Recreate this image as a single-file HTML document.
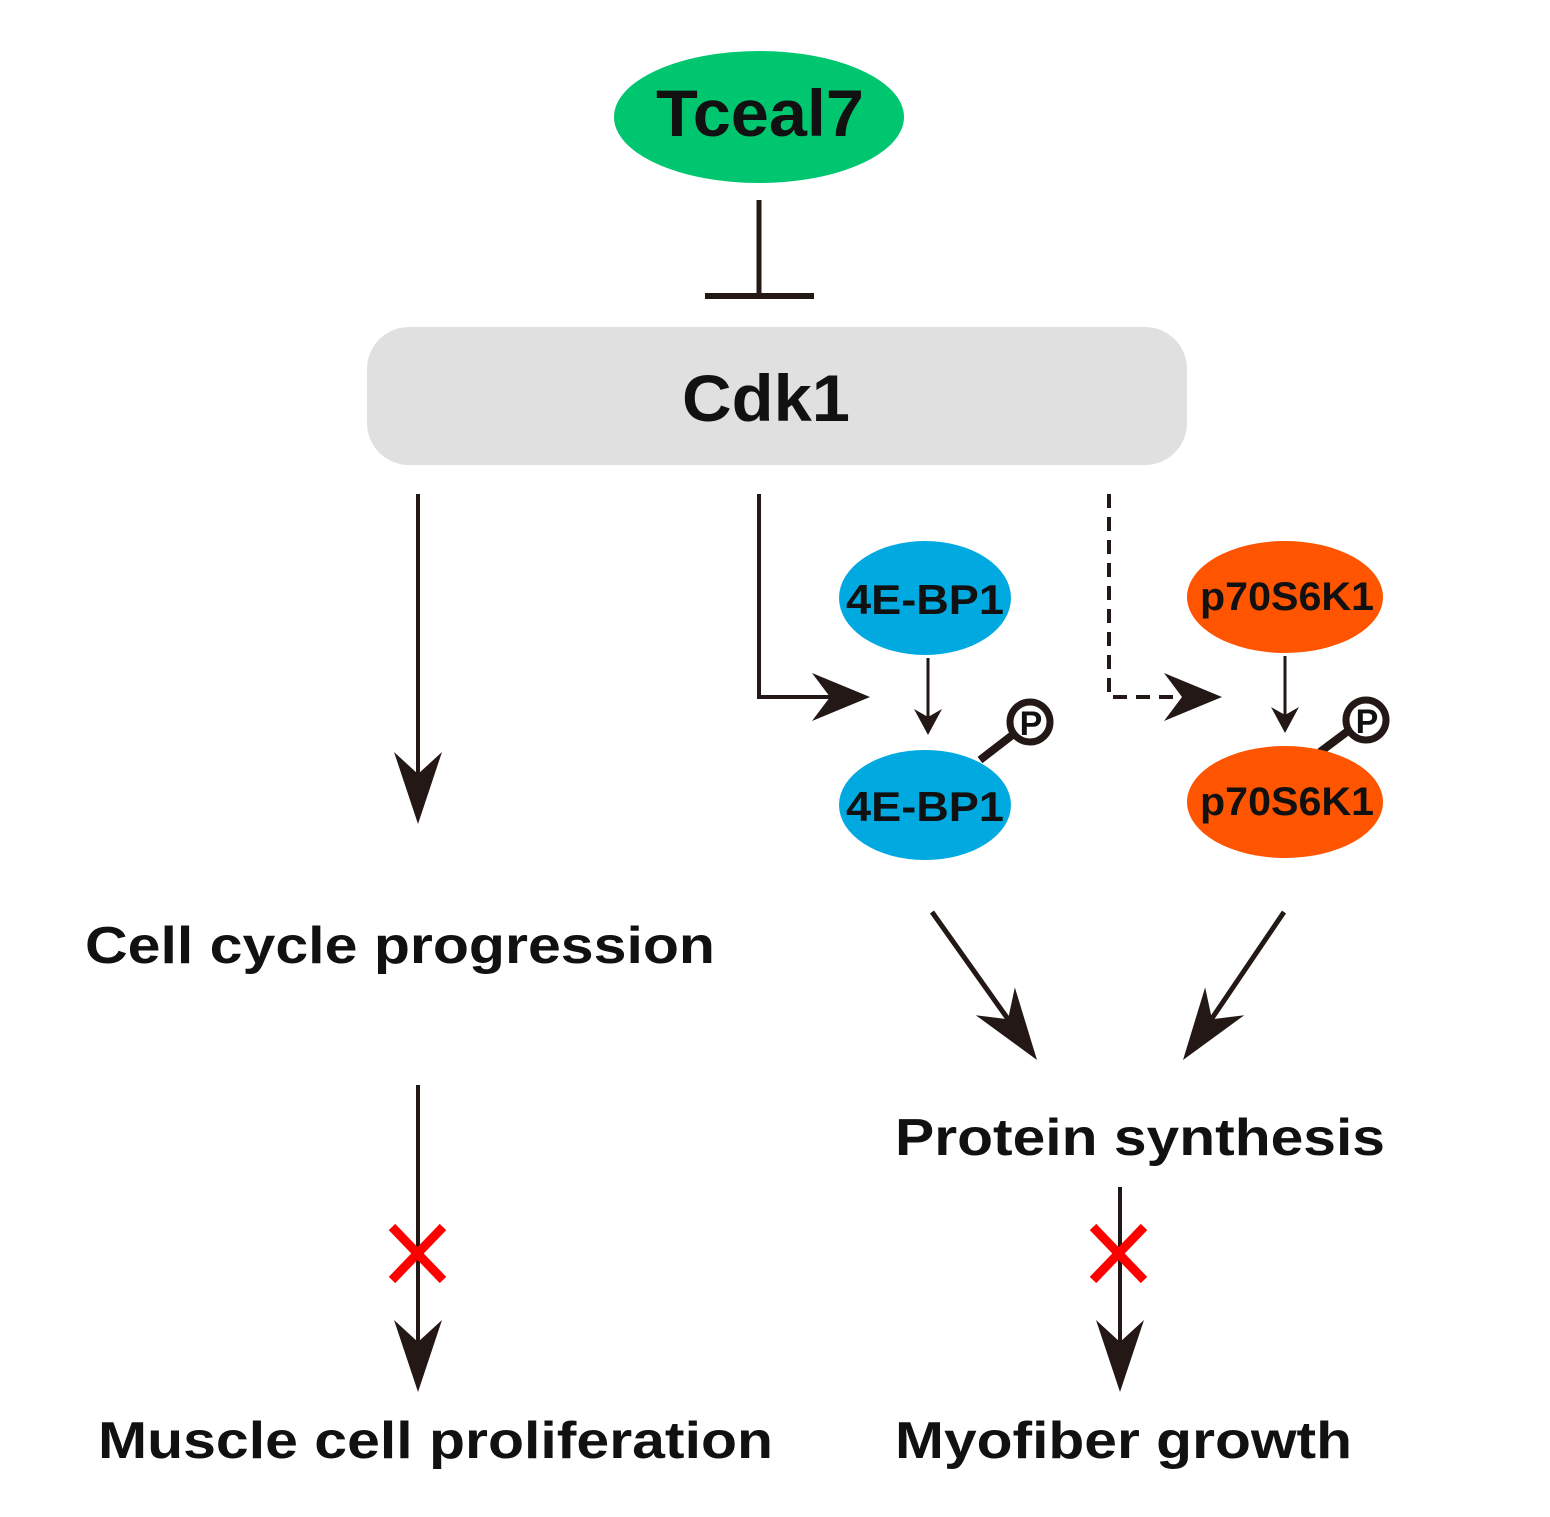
<!DOCTYPE html>
<html><head><meta charset="utf-8"><style>
html,body{margin:0;padding:0;background:#fff;}
svg{display:block;}
text{font-family:"Liberation Sans",Arial,sans-serif;font-weight:bold;fill:#111;}
</style></head><body>
<svg width="1550" height="1517" viewBox="0 0 1550 1517" xmlns="http://www.w3.org/2000/svg">
<defs>
<path id="ah" d="M0 0 L-72 -24 L-50 0 L-72 24 Z" fill="#231815"/>
<path id="ahs" d="M0 0 L-58 -24 L-40 0 L-58 24 Z" fill="#231815"/>
<path id="ahm" d="M0 0 L-26 -14 L-18 0 L-26 14 Z" fill="#231815"/>
</defs>
<g stroke="#231815" fill="none">
<ellipse cx="759" cy="117" rx="145" ry="66" fill="#00c670" stroke="none"/>
<line x1="759" y1="200" x2="759" y2="296" stroke-width="5"/>
<line x1="705" y1="296" x2="814" y2="296" stroke-width="6"/>
<rect x="367" y="327" width="820" height="138" rx="42" fill="#dfe0df" stroke="none"/>
<line x1="418" y1="494" x2="418" y2="790" stroke-width="4"/>
<polyline points="759,494 759,697 830,697" stroke-width="4"/>
<polyline points="1109,494 1109,697 1180,697" stroke-width="4" stroke-dasharray="14,9"/>
<line x1="928" y1="658" x2="928" y2="725" stroke-width="3"/>
<line x1="1285" y1="656" x2="1285" y2="725" stroke-width="3"/>
<line x1="932" y1="912" x2="1020" y2="1036" stroke-width="5"/>
<line x1="1284" y1="912" x2="1200" y2="1036" stroke-width="5"/>
<line x1="418" y1="1085" x2="418" y2="1350" stroke-width="4"/>
<line x1="1120" y1="1187" x2="1120" y2="1350" stroke-width="4"/>
<line x1="980" y1="760" x2="1015" y2="733" stroke-width="8"/>
<line x1="1320" y1="752" x2="1352" y2="728" stroke-width="8"/>
<circle cx="1030" cy="722" r="20" fill="#fff" stroke-width="7"/>
<circle cx="1366" cy="720" r="20" fill="#fff" stroke-width="7"/>
</g>
<use href="#ah" transform="translate(418,824) rotate(90)"/>
<use href="#ahs" transform="translate(870,697)"/>
<use href="#ahs" transform="translate(1222,697)"/>
<use href="#ahm" transform="translate(928,735) rotate(90)"/>
<use href="#ahm" transform="translate(1285,733) rotate(90)"/>
<use href="#ah" transform="translate(1037,1060) rotate(54.6)"/>
<use href="#ah" transform="translate(1183,1060) rotate(125.4)"/>
<use href="#ah" transform="translate(418,1392) rotate(90)"/>
<use href="#ah" transform="translate(1120,1392) rotate(90)"/>
<g stroke="#ff0000" stroke-width="9">
<line x1="392" y1="1227" x2="443" y2="1280"/><line x1="443" y1="1227" x2="392" y2="1280"/>
<line x1="1093" y1="1227" x2="1144" y2="1280"/><line x1="1144" y1="1227" x2="1093" y2="1280"/>
</g>
<ellipse cx="925" cy="598" rx="86" ry="57" fill="#00a9e0"/>
<ellipse cx="925" cy="805" rx="86" ry="55" fill="#00a9e0"/>
<ellipse cx="1285" cy="597" rx="98" ry="56" fill="#ff5500"/>
<ellipse cx="1285" cy="802" rx="98" ry="56" fill="#ff5500"/>
<text x="925" y="614" font-size="42" text-anchor="middle" textLength="158" lengthAdjust="spacingAndGlyphs">4E-BP1</text>
<text x="925" y="821" font-size="42" text-anchor="middle" textLength="158" lengthAdjust="spacingAndGlyphs">4E-BP1</text>
<text x="1287" y="610" font-size="40" text-anchor="middle" textLength="174" lengthAdjust="spacingAndGlyphs">p70S6K1</text>
<text x="1287" y="815" font-size="40" text-anchor="middle" textLength="174" lengthAdjust="spacingAndGlyphs">p70S6K1</text>
<text x="1031" y="735" font-size="34" font-weight="normal" text-anchor="middle">P</text>
<text x="1367" y="733" font-size="34" font-weight="normal" text-anchor="middle">P</text>
<text x="760" y="136" font-size="66" text-anchor="middle" textLength="208" lengthAdjust="spacingAndGlyphs">Tceal7</text>
<text x="766" y="421" font-size="66" text-anchor="middle" textLength="168" lengthAdjust="spacingAndGlyphs">Cdk1</text>
<text x="85" y="963" font-size="52" textLength="630" lengthAdjust="spacingAndGlyphs">Cell cycle progression</text>
<text x="895" y="1155" font-size="52" textLength="490" lengthAdjust="spacingAndGlyphs">Protein synthesis</text>
<text x="98" y="1458" font-size="52" textLength="675" lengthAdjust="spacingAndGlyphs">Muscle cell proliferation</text>
<text x="895" y="1458" font-size="52" textLength="457" lengthAdjust="spacingAndGlyphs">Myofiber growth</text>
</svg>
</body></html>
